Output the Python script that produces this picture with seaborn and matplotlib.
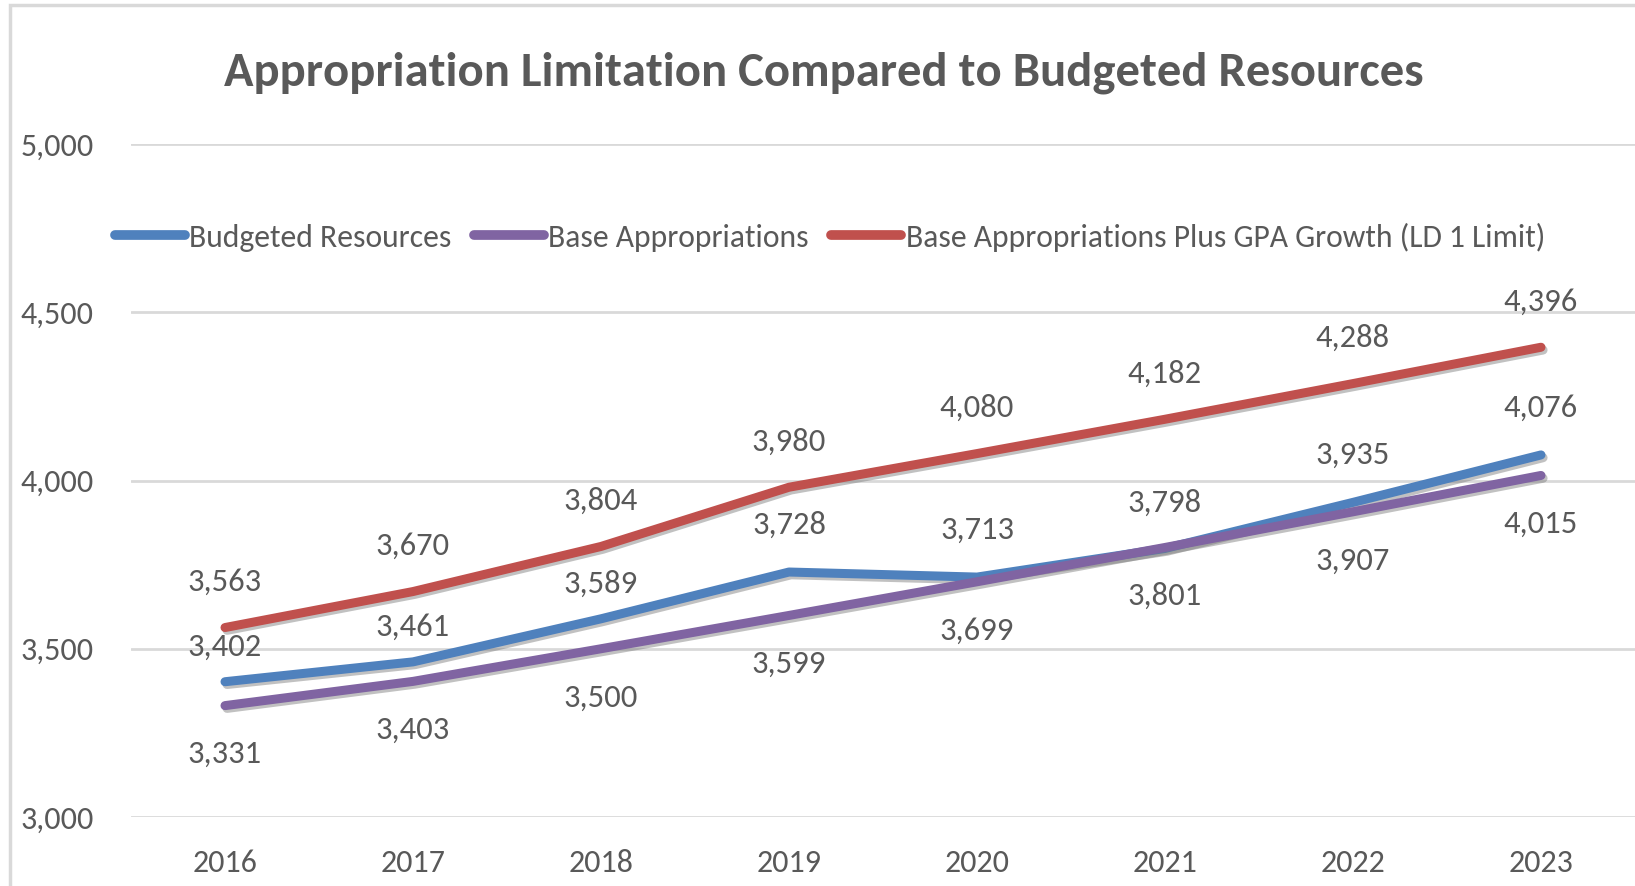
import pandas as pd
import seaborn as sns
import matplotlib.pyplot as plt
import matplotlib.patheffects as pe
from matplotlib.patches import Rectangle

# chart data
years = [2016, 2017, 2018, 2019, 2020, 2021, 2022, 2023]
budgeted = [3402, 3461, 3589, 3728, 3713, 3798, 3935, 4076]
base_approp = [3331, 3403, 3500, 3599, 3699, 3801, 3907, 4015]
gpa_limit = [3563, 3670, 3804, 3980, 4080, 4182, 4288, 4396]
series_names = ['Budgeted Resources', 'Base Appropriations',
                'Base Appropriations Plus GPA Growth (LD 1 Limit)']
colors = ['#4F81BD', '#8064A2', '#C0504D']

df = pd.DataFrame({
    'Year': years * 3,
    'Value': budgeted + base_approp + gpa_limit,
    'Series': [series_names[0]] * 8 + [series_names[1]] * 8 + [series_names[2]] * 8,
})

sns.set_style('white')
plt.rcParams['font.family'] = ['Carlito', 'Lato', 'DejaVu Sans']
txt = '#595959'
fs = 23.5

fig = plt.figure(figsize=(16.35, 8.86), dpi=100)
ax = fig.add_axes([131 / 1635, 69 / 886, 1 - 131 / 1635, 673 / 886])

# chart border
fig.patches.append(Rectangle((10 / 1635, -0.02), 1.2, 1 - 5 / 886 + 0.02,
                             transform=fig.transFigure, fill=False,
                             edgecolor='#d9d9d9', linewidth=2.5))

shadow = [pe.SimpleLineShadow(offset=(1.5, -2), shadow_color='#777777', alpha=0.45), pe.Normal()]
sns.lineplot(data=df, x='Year', y='Value', hue='Series', hue_order=series_names,
             palette=colors, linewidth=6.5, ax=ax, legend=False,
             solid_capstyle='round', path_effects=shadow)

ax.set_xlim(2015.5, 2023.5)
ax.set_ylim(3000, 5000)
ax.set_yticks([3000, 3500, 4000, 4500, 5000])
ax.set_yticklabels(['3,000', '3,500', '4,000', '4,500', '5,000'])
ax.set_xticks(years)
ax.set_xticklabels([str(y) for y in years])
ax.tick_params(axis='y', length=0, pad=27, labelsize=23, labelcolor=txt)
ax.tick_params(axis='x', length=0, pad=23, labelsize=23, labelcolor=txt)
ax.yaxis.grid(True, color='#d9d9d9', linewidth=2)
ax.xaxis.grid(False)
for s in ax.spines.values():
    s.set_visible(False)
ax.set_xlabel('')
ax.set_ylabel('')

# data labels (offsets in points)
b_off = [25, 25, 25, 34, 34, 33, 34, 34]
for i, y in enumerate(years):
    ax.annotate(f'{budgeted[i]:,}', (y, budgeted[i]), xytext=(0, b_off[i]),
                textcoords='offset points', ha='center', va='center', fontsize=fs, color=txt)
    ax.annotate(f'{base_approp[i]:,}', (y, base_approp[i]), xytext=(0, -35),
                textcoords='offset points', ha='center', va='center', fontsize=fs, color=txt)
    ax.annotate(f'{gpa_limit[i]:,}', (y, gpa_limit[i]), xytext=(0, 33),
                textcoords='offset points', ha='center', va='center', fontsize=fs, color=txt)

fig.text(824 / 1635, 1 - 73 / 886, 'Appropriation Limitation Compared to Budgeted Resources',
         ha='center', va='center', fontsize=35, fontweight='bold', color=txt)

handles = [plt.Line2D([], [], color=c, linewidth=7, solid_capstyle='round') for c in colors]
fig.legend(handles, series_names, loc='center', bbox_to_anchor=(830 / 1635, 1 - 237 / 886),
           ncol=3, frameon=False, fontsize=22.8, handlelength=2.2, handletextpad=0.15,
           columnspacing=0.7, labelcolor=txt)

fig.savefig('out.png', dpi=100)
